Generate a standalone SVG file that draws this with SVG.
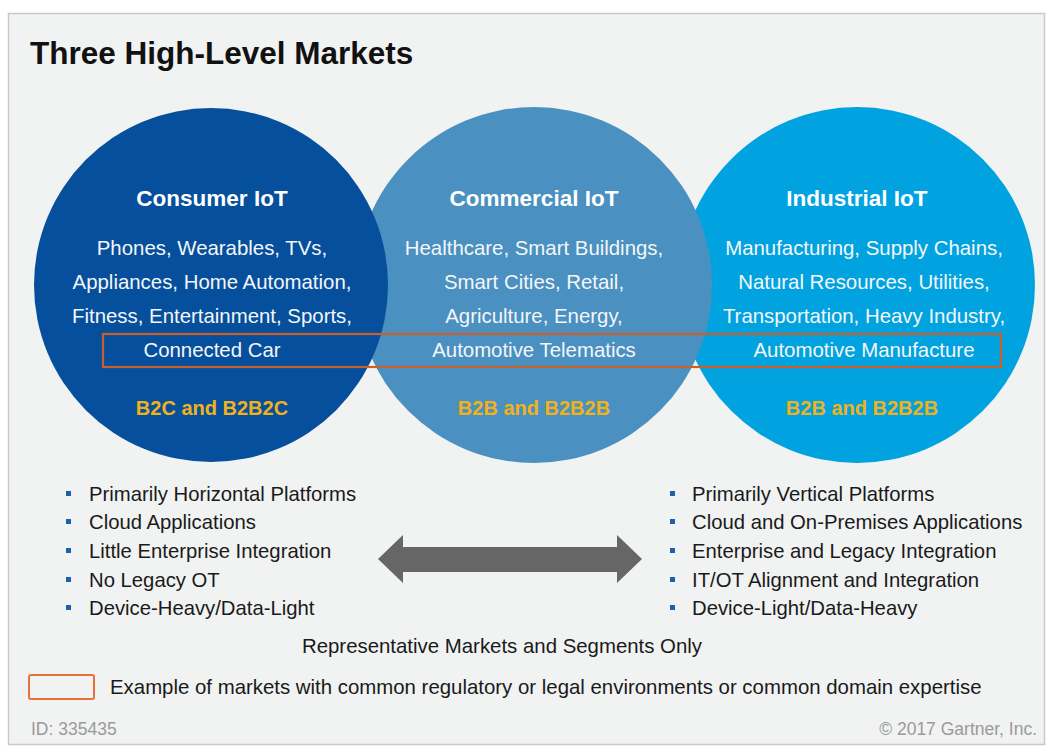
<svg xmlns="http://www.w3.org/2000/svg" width="1048" height="747" viewBox="0 0 1048 747">
<style>
text{font-family:"Liberation Sans",Arial,sans-serif}
.title{font-size:31.5px;font-weight:bold;fill:#111}
.ct{font-size:22.5px;font-weight:bold;fill:#fff;text-anchor:middle}
.cb{font-size:20.4px;fill:#f4f6f8;text-anchor:middle}
.gold{font-size:20px;font-weight:bold;fill:#f0b21c;text-anchor:middle}
.bl{font-size:20.3px;fill:#1a1a1a}
.bul{fill:#1f5fae}
.note{font-size:20.4px;fill:#1a1a1a}
.foot{font-size:17.5px;fill:#9a9a9a}
.hl{fill:none;stroke:#c8602c;stroke-width:2.2}
</style>
<rect x="0" y="0" width="1048" height="747" fill="#ffffff"/>
<rect x="8.5" y="13.5" width="1036" height="731" fill="#f1f2f2" stroke="#c9c9c9" stroke-width="1.5"/>
<text class="title" x="30" y="64">Three High-Level Markets</text>

<g id="industrial">
<circle cx="857" cy="285" r="178" fill="#00a3e0"/>
</g>
<g id="commercial">
<circle cx="534" cy="285" r="178" fill="#4a90c0"/>
</g>
<g id="consumer">
<circle cx="211" cy="285" r="177" fill="#064f9c"/>
</g>

<g id="consumer-text">
<text class="ct" x="212" y="206">Consumer IoT</text>
<text class="cb" x="212" y="255">Phones, Wearables, TVs,</text>
<text class="cb" x="212" y="289">Appliances, Home Automation,</text>
<text class="cb" x="212" y="323">Fitness, Entertainment, Sports,</text>
<text class="cb" x="212" y="357">Connected Car</text>
<text class="gold" x="212" y="415">B2C and B2B2C</text>
</g>
<g id="commercial-text">
<text class="ct" x="534" y="206">Commercial IoT</text>
<text class="cb" x="534" y="255">Healthcare, Smart Buildings,</text>
<text class="cb" x="534" y="289">Smart Cities, Retail,</text>
<text class="cb" x="534" y="323">Agriculture, Energy,</text>
<text class="cb" x="534" y="357">Automotive Telematics</text>
<text class="gold" x="534" y="415">B2B and B2B2B</text>
</g>
<g id="industrial-text">
<text class="ct" x="857" y="206">Industrial IoT</text>
<text class="cb" x="864" y="255">Manufacturing, Supply Chains,</text>
<text class="cb" x="864" y="289">Natural Resources, Utilities,</text>
<text class="cb" x="864" y="323">Transportation, Heavy Industry,</text>
<text class="cb" x="864" y="357">Automotive Manufacture</text>
<text class="gold" x="862" y="415">B2B and B2B2B</text>
</g>

<g id="highlight">
<rect class="hl" x="103" y="334" width="898" height="33"/>
</g>

<g id="left-list">
<rect class="bul" x="66" y="491" width="5" height="5"/>
<text class="bl" x="89" y="501">Primarily Horizontal Platforms</text>
<rect class="bul" x="66" y="519" width="5" height="5"/>
<text class="bl" x="89" y="529">Cloud Applications</text>
<rect class="bul" x="66" y="548" width="5" height="5"/>
<text class="bl" x="89" y="558">Little Enterprise Integration</text>
<rect class="bul" x="66" y="577" width="5" height="5"/>
<text class="bl" x="89" y="587">No Legacy OT</text>
<rect class="bul" x="66" y="605" width="5" height="5"/>
<text class="bl" x="89" y="615">Device-Heavy/Data-Light</text>
</g>

<g id="right-list">
<rect class="bul" x="670" y="491" width="5" height="5"/>
<text class="bl" x="692" y="501">Primarily Vertical Platforms</text>
<rect class="bul" x="670" y="519" width="5" height="5"/>
<text class="bl" x="692" y="529">Cloud and On-Premises Applications</text>
<rect class="bul" x="670" y="548" width="5" height="5"/>
<text class="bl" x="692" y="558">Enterprise and Legacy Integration</text>
<rect class="bul" x="670" y="577" width="5" height="5"/>
<text class="bl" x="692" y="587">IT/OT Alignment and Integration</text>
<rect class="bul" x="670" y="605" width="5" height="5"/>
<text class="bl" x="692" y="615">Device-Light/Data-Heavy</text>
</g>

<g id="connectors">
<path d="M378,559 L403,535 L403,547 L617,547 L617,535 L642,559 L617,583 L617,572 L403,572 L403,583 Z" fill="#666666"/>
</g>

<g id="notes">
<text class="note" x="502" y="653" text-anchor="middle">Representative Markets and Segments Only</text>
<rect x="29" y="675" width="65" height="24" rx="2" fill="none" stroke="#e8703a" stroke-width="2"/>
<text class="note" x="110" y="694">Example of markets with common regulatory or legal environments or common domain expertise</text>
<text class="foot" x="31" y="735">ID: 335435</text>
<text class="foot" x="1037" y="735" text-anchor="end">© 2017 Gartner, Inc.</text>
</g>
</svg>
